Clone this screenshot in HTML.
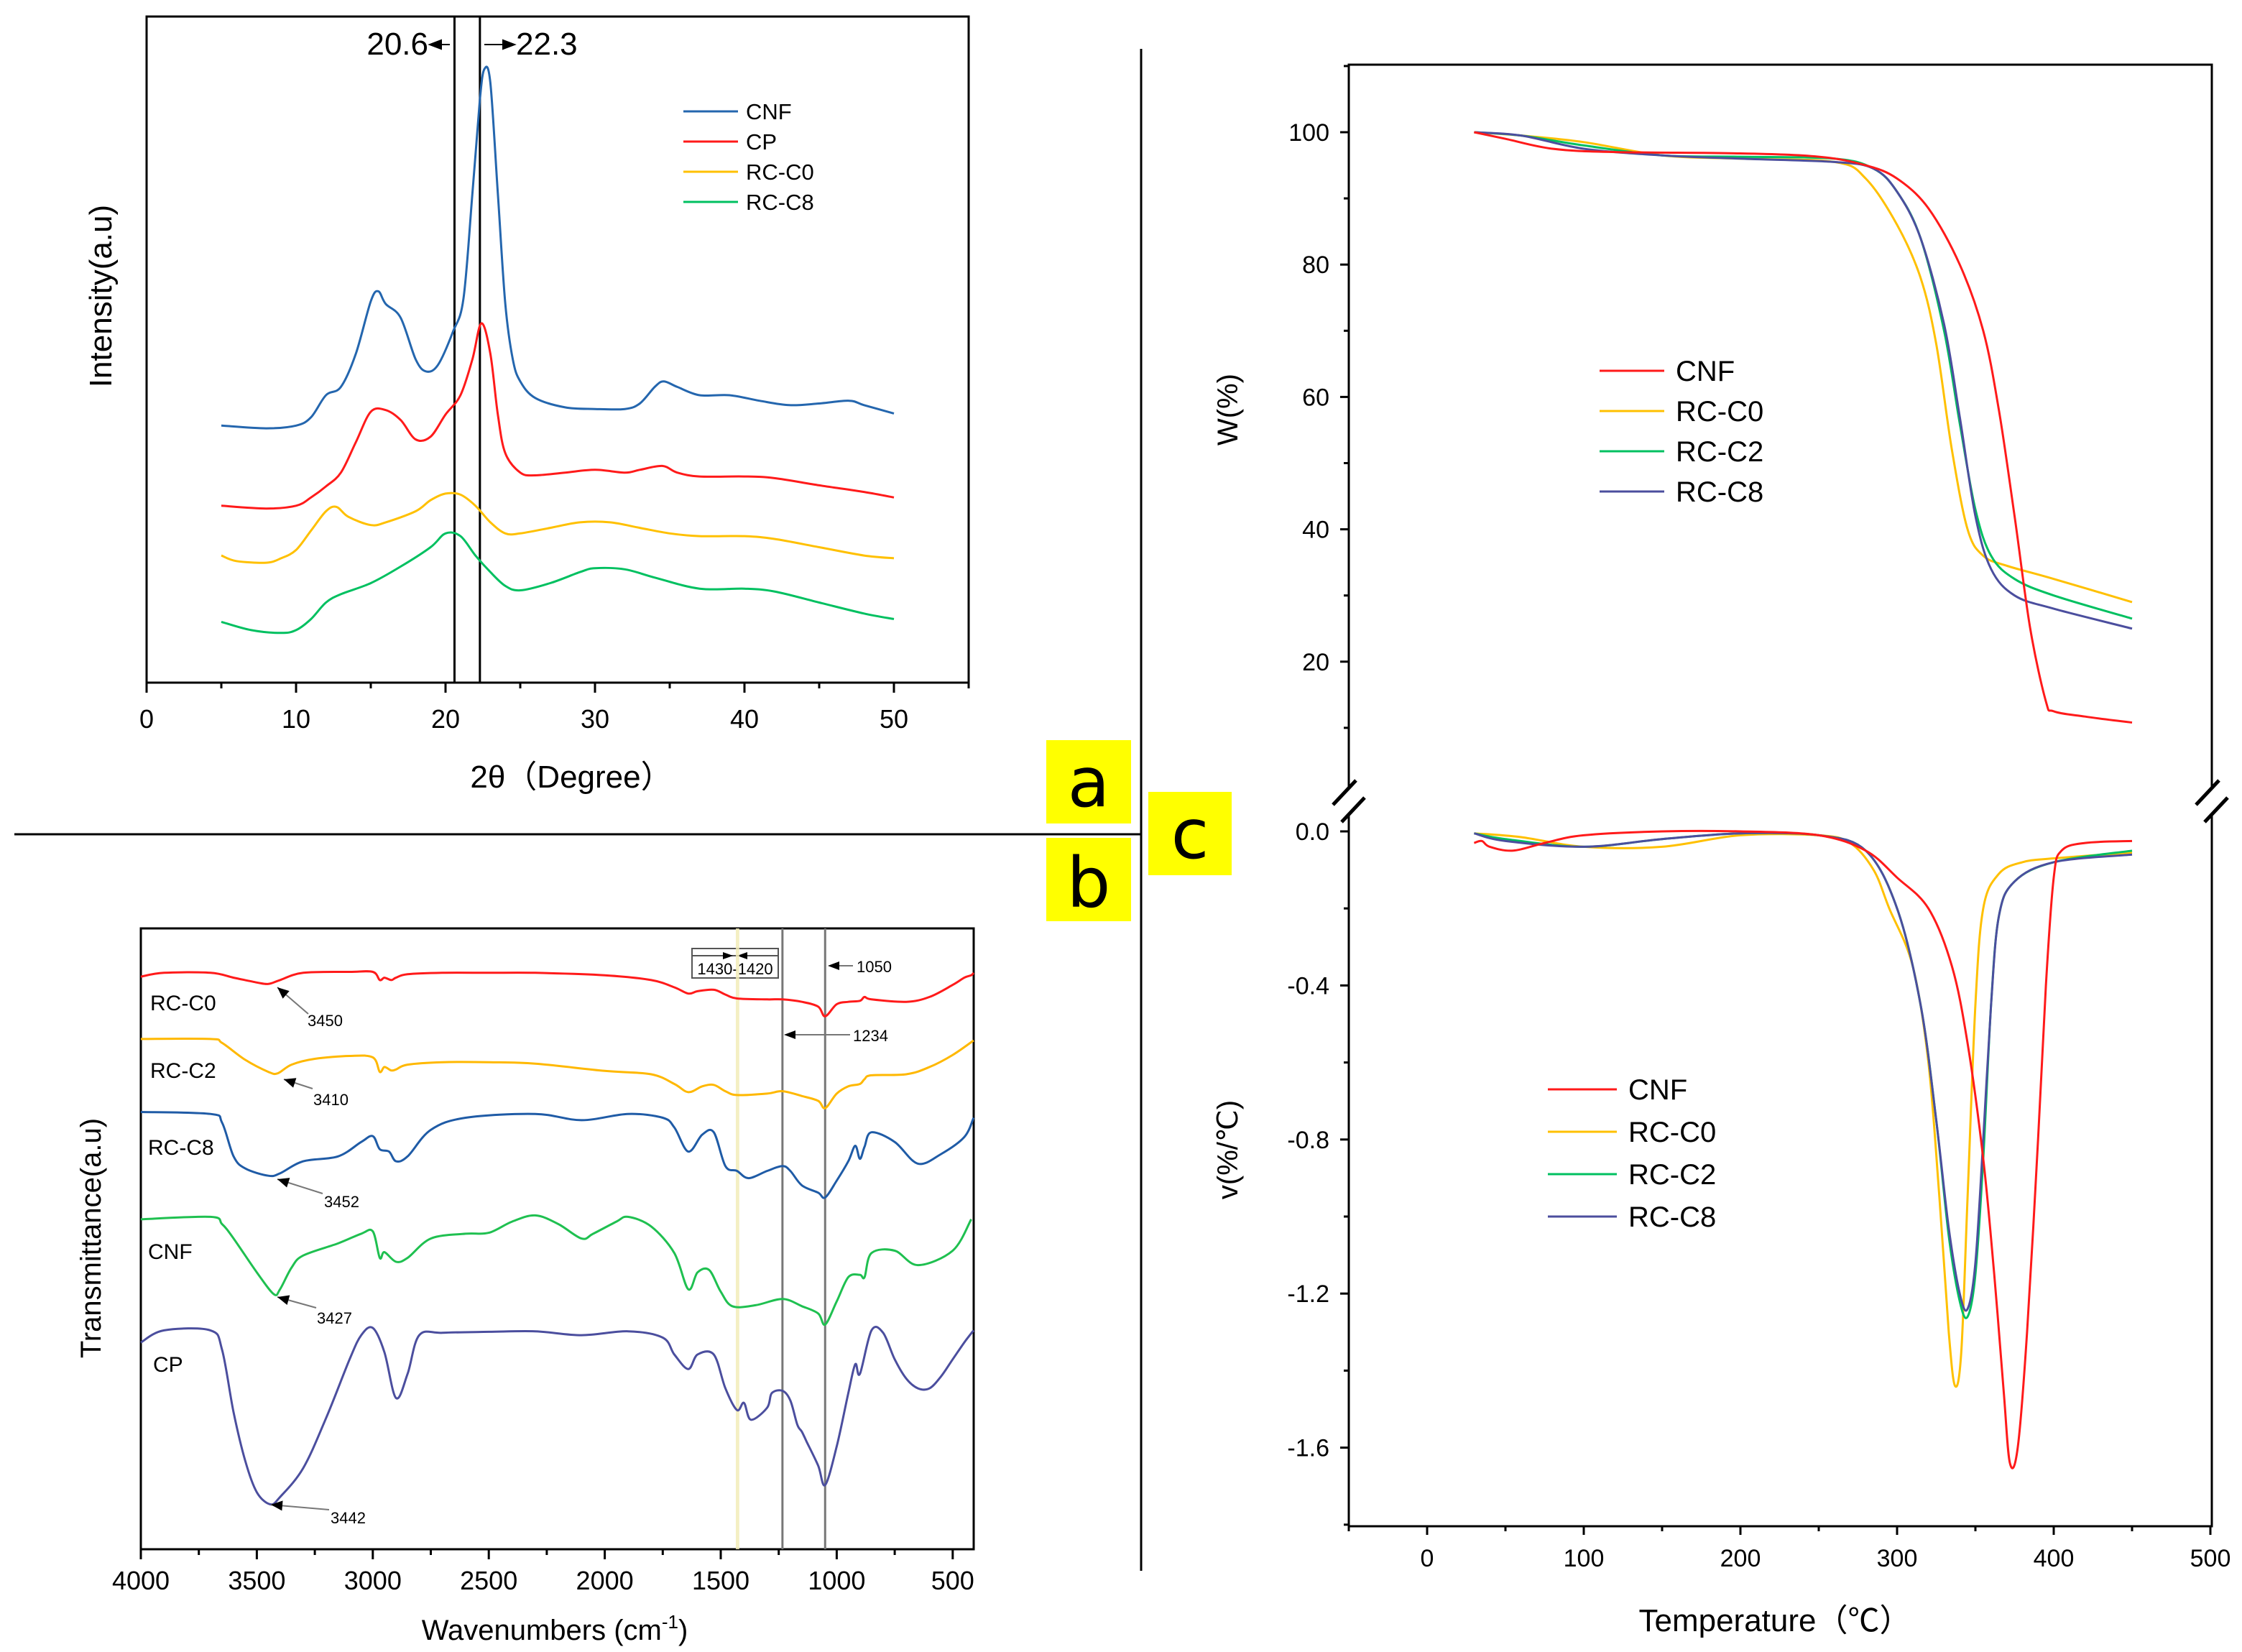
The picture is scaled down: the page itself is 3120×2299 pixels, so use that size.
<!DOCTYPE html>
<html><head><meta charset="utf-8"><title>XRD, FTIR and TGA figure</title>
<style>
html,body{margin:0;padding:0;background:#fff;}
svg{display:block;font-family:"Liberation Sans",Arial,sans-serif;}
</style></head>
<body>
<svg id="chart" xmlns="http://www.w3.org/2000/svg" width="3120" height="2299" viewBox="0 0 3120 2299">
<rect x="0" y="0" width="3120" height="2299" fill="#fff"/>
<line x1="1588" y1="68" x2="1588" y2="2186" stroke="#000" stroke-width="3"/>
<line x1="20" y1="1161" x2="1588" y2="1161" stroke="#000" stroke-width="3"/>
<g><rect x="1456" y="1030" width="118" height="116" fill="#ffff00"/><text x="1515" y="1122" font-size="96" font-family="DejaVu Sans,sans-serif" text-anchor="middle">a</text></g>
<g><rect x="1456" y="1166" width="118" height="116" fill="#ffff00"/><text x="1515" y="1262" font-size="96" font-family="DejaVu Sans,sans-serif" text-anchor="middle">b</text></g>
<g><rect x="1598" y="1102" width="116" height="116" fill="#ffff00"/><text x="1656" y="1194" font-size="96" font-family="DejaVu Sans,sans-serif" text-anchor="middle">c</text></g>

<g id="pa">
<rect x="204" y="23" width="1144" height="927" fill="none" stroke="#000" stroke-width="3"/>
<text x="795" y="1096" font-size="44" text-anchor="middle">2θ（Degree）</text>
<text transform="translate(155,412) rotate(-90)" font-size="44" text-anchor="middle">Intensity(a.u)</text>
<text x="596" y="76" font-size="44" text-anchor="end">20.6</text>
<path d="M598,62 L626,62 M598,62 L614,56 L614,68 Z" stroke="#000" stroke-width="2" fill="#000"/>
<path d="M674,62 L704,62 M716,62 L700,56 L700,68 Z" stroke="#000" stroke-width="2" fill="#000"/>
<text x="718" y="76" font-size="44">22.3</text>
</g>
<g id="pb">
<rect x="196" y="1292" width="1159" height="864" fill="none" stroke="#000" stroke-width="3"/>
<text x="772" y="2282" font-size="40" text-anchor="middle">Wavenumbers (cm<tspan dy="-16" font-size="26">-1</tspan><tspan dy="16">)</tspan></text>
<text transform="translate(140,1723) rotate(-90)" font-size="40" text-anchor="middle">Transmittance(a.u)</text>
<text x="209" y="1406" font-size="30">RC-C0</text>
<text x="209" y="1500" font-size="30">RC-C2</text>
<text x="206" y="1607" font-size="30">RC-C8</text>
<text x="206" y="1752" font-size="30">CNF</text>
<text x="213" y="1909" font-size="30">CP</text>
<rect x="963" y="1320" width="120" height="41" fill="#fff" stroke="#555" stroke-width="2"/>
<line x1="963" y1="1330" x2="1083" y2="1330" stroke="#555" stroke-width="2"/>
<path d="M1020,1330 L1006,1325 L1006,1335 Z M1026,1330 L1040,1325 L1040,1335 Z" fill="#000"/>
<text x="1023" y="1356" font-size="22" text-anchor="middle">1430-1420</text>
</g>
<g id="pc">
<text transform="translate(1722,570) rotate(-90)" font-size="40" text-anchor="middle">W(%)</text>
<text transform="translate(1722,1600) rotate(-90)" font-size="40" text-anchor="middle">v(%/℃)</text>
<text x="2470" y="2270" font-size="44" text-anchor="middle" font-family="'Liberation Sans','Noto Sans CJK SC',sans-serif">Temperature（℃）</text>
</g>
</svg>
<script>
const xrdCnfX=[5,8,10,11,12,13,14,15,15.5,16,17,18,18.7,19.5,20.5,21.2,21.8,22.3,22.6,23,23.5,24,24.5,25,26,28,30,32,33,34,34.6,35.5,37,39,41,43,45,47,48,50];
const xrdCnfY=[465,460,465,480,520,535,595,690,708,685,660,585,563,575,635,695,885,1055,1110,1085,885,685,585,545,515,498,495,495,505,535,545,535,520,520,510,502,505,510,502,487];
const xrdCpX=[5,8,10,11,12,13,14,15,16,17,18,19,20,21,21.8,22.4,23,23.5,24,25,26,28,30,32,33,34.5,35.5,37,40,42,45,48,50];
const xrdCpY=[320,315,320,335,355,380,435,490,493,475,440,445,485,520,585,650,595,485,415,380,375,380,385,380,385,392,380,373,373,370,357,345,335];
const xrdC0X=[5,6,8,9,10,11,12,12.7,13.5,15,16,18,19,20,21,22,23,24,25,27,29,31,33,35,37,40,42,45,48,50];
const xrdC0Y=[230,220,217,225,240,275,310,318,300,285,290,310,330,342,340,320,290,270,270,280,290,290,280,270,265,265,260,245,230,225];
const xrdC8X=[5,7,9,10,11,12,13,15,17,19,20,21,22,23,24,25,27,29,30,32,34,37,40,42,45,48,50];
const xrdC8Y=[110,95,90,95,115,145,160,180,210,245,270,265,230,200,175,167,180,200,207,205,190,170,170,165,145,125,115];
const xrdTicks=[0,10,20,30,40,50];
const xrdRefLines=[20.6,22.3];
const xrdLegend=["CNF","CP","RC-C0","RC-C8"];

const irC0X=[4000,3900,3700,3600,3500,3450,3400,3300,3100,3000,2970,2950,2920,2900,2850,2700,2500,2300,2000,1800,1700,1640,1600,1530,1480,1430,1300,1234,1150,1080,1050,1000,950,900,880,850,700,600,500,450,420,410];
const irC0Y=[1185,1193,1193,1183,1173,1170,1178,1193,1195,1195,1178,1183,1178,1183,1190,1193,1193,1193,1188,1178,1163,1150,1155,1158,1148,1140,1138,1138,1133,1123,1103,1128,1133,1135,1143,1138,1133,1143,1168,1183,1188,1193];
const irC2X=[4000,3700,3650,3550,3450,3410,3350,3250,3100,3000,2970,2950,2920,2900,2850,2700,2500,2300,2000,1800,1700,1640,1580,1530,1480,1430,1300,1234,1150,1080,1050,1000,950,900,880,850,700,600,500,410];
const irC2Y=[1056,1056,1048,1013,988,985,1003,1015,1021,1018,988,998,991,993,1003,1008,1008,1005,990,983,963,946,958,961,948,940,943,948,938,928,913,943,958,963,973,981,983,998,1023,1053];
const irC8X=[4000,3700,3650,3600,3550,3450,3400,3300,3150,3050,3000,2970,2930,2900,2850,2750,2600,2300,2100,1900,1750,1700,1640,1580,1530,1480,1430,1380,1300,1234,1200,1150,1080,1050,1000,950,920,900,880,850,750,650,550,450,410];
const irC8Y=[905,901,883,813,788,773,778,803,813,843,855,828,823,803,813,868,893,901,888,901,893,873,823,858,863,793,783,768,783,793,783,753,738,728,763,803,835,808,833,863,843,798,818,853,893];
const irCnfX=[4000,3700,3650,3600,3500,3427,3400,3350,3300,3150,3050,3000,2970,2950,2900,2850,2750,2600,2500,2400,2300,2200,2100,2050,1950,1900,1800,1700,1640,1600,1550,1500,1450,1350,1234,1150,1080,1050,1000,950,900,880,850,750,650,500,420];
const irCnfY=[683,688,673,643,573,528,538,583,608,633,653,658,603,615,595,603,643,653,655,678,691,673,643,653,678,688,668,613,538,573,578,533,503,505,518,503,488,465,513,563,568,563,613,618,588,618,683];
const irCpX=[4000,3900,3700,3650,3600,3550,3500,3442,3400,3300,3200,3100,3050,3000,2950,2900,2850,2800,2700,2500,2300,2100,1900,1750,1700,1640,1600,1530,1480,1430,1400,1370,1300,1280,1234,1200,1170,1150,1130,1080,1050,1000,950,920,900,850,800,750,700,650,600,550,500,450,410];
const irCpY=[428,453,453,413,283,183,118,93,108,168,273,393,443,458,408,313,363,443,448,450,451,443,451,438,403,373,403,403,333,288,303,268,293,323,328,308,258,243,223,173,133,213,323,383,363,453,448,393,353,333,333,358,393,428,453];
const irTicks=[4000,3500,3000,2500,2000,1500,1000,500];
const irRefLines=[1234,1050];
const irPeakLabels=["3450","3410","3452","3427","3442"];

const tgaCnfT=[30,50,80,120,200,250,280,300,320,340,355,365,375,385,395,400,420,450];
const tgaCnfW=[100,99,97.5,97,96.8,96.3,95,93,88.5,80,70,58,42,25,14,12.5,11.7,10.8];
const tgaC0T=[30,60,100,150,200,260,280,300,315,325,335,345,355,370,400,450];
const tgaC0W=[100,99.5,98.5,96.5,96,95.5,93,86,78,68,52,40,36,34.5,32.5,29];
const tgaC2T=[30,60,100,150,200,260,285,300,315,330,340,350,360,375,400,450];
const tgaC2W=[100,99.5,98,96.5,96.3,96,94.5,91,84,70,56,43,36,32.5,30,26.5];
const tgaC8T=[30,60,100,150,200,260,285,300,315,330,340,350,360,375,400,450];
const tgaC8W=[100,99.5,97.5,96.5,96,95.5,94.5,91,84,71,57,42,34,30,28,25];
const dtgCnfT=[30,35,40,55,75,100,150,200,250,280,300,320,335,345,355,362,368,372,377,383,390,395,400,405,420,450];
const dtgCnfV=[-0.03,-0.025,-0.04,-0.05,-0.03,-0.01,0,0,-0.01,-0.05,-0.12,-0.2,-0.35,-0.55,-0.85,-1.15,-1.45,-1.64,-1.6,-1.3,-0.8,-0.4,-0.12,-0.05,-0.03,-0.025];
const dtgC0T=[30,60,100,150,200,250,270,285,295,310,320,327,333,337,341,345,350,355,365,380,400,450];
const dtgC0V=[-0.005,-0.015,-0.04,-0.04,-0.01,-0.01,-0.03,-0.1,-0.2,-0.35,-0.6,-0.95,-1.3,-1.44,-1.35,-0.95,-0.45,-0.2,-0.11,-0.08,-0.07,-0.055];
const dtgC2T=[30,50,100,150,200,250,280,300,315,325,333,340,345,350,355,360,365,375,400,450];
const dtgC2V=[-0.005,-0.02,-0.04,-0.02,-0.005,-0.01,-0.05,-0.2,-0.45,-0.75,-1.05,-1.22,-1.26,-1.15,-0.85,-0.45,-0.22,-0.13,-0.08,-0.05];
const dtgC8T=[30,50,100,150,200,250,280,300,315,325,333,340,345,350,355,360,365,375,400,450];
const dtgC8V=[-0.005,-0.025,-0.04,-0.02,-0.005,-0.01,-0.05,-0.2,-0.45,-0.75,-1.03,-1.2,-1.24,-1.12,-0.8,-0.45,-0.22,-0.13,-0.08,-0.06];
const tempTicks=[0,100,200,300,400,500];
const wTicks=[100,80,60,40,20];
const vTicks=[0.0,-0.4,-0.8,-1.2,-1.6];
const tgaLegend=["CNF","RC-C0","RC-C2","RC-C8"];

const NS="http://www.w3.org/2000/svg";
const svg=document.getElementById('chart');
function mk(tag,attrs,parent){const e=document.createElementNS(NS,tag);for(const k in attrs)e.setAttribute(k,attrs[k]);(parent||svg).appendChild(e);return e;}
function smooth(pts){
  let d="M"+pts[0][0].toFixed(1)+","+pts[0][1].toFixed(1);
  for(let i=0;i<pts.length-1;i++){
    const p0=pts[i-1]||pts[i],p1=pts[i],p2=pts[i+1],p3=pts[i+2]||p2;
    const c1=[p1[0]+(p2[0]-p0[0])/6,p1[1]+(p2[1]-p0[1])/6];
    const c2=[p2[0]-(p3[0]-p1[0])/6,p2[1]-(p3[1]-p1[1])/6];
    d+=" C"+c1[0].toFixed(1)+","+c1[1].toFixed(1)+" "+c2[0].toFixed(1)+","+c2[1].toFixed(1)+" "+p2[0].toFixed(1)+","+p2[1].toFixed(1);
  }
  return d;
}
function curve(xs,ys,fx,fy,color,w,name){
  const pts=xs.map((x,i)=>[fx(x),fy(ys[i])]);
  const p=mk('path',{d:smooth(pts),fill:'none',stroke:color,'stroke-width':w,'stroke-linejoin':'round'});
  
  
  return p;
}

const ax=v=>204+v*20.8, ay=v=>950-v*0.7693;
xrdRefLines.forEach(v=>{
  const l=mk('line',{x1:ax(v),x2:ax(v),y1:23,y2:950,stroke:'#000','stroke-width':3});
  
  
});
for(let v=0;v<=55;v+=5){
  const major=v%10===0;
  const t=mk('line',{x1:ax(v),x2:ax(v),y1:950,y2:950+(major?14:8),stroke:'#000','stroke-width':3});
  
  
}
xrdTicks.forEach(v=>{
  const t=mk('text',{x:ax(v),y:1013,'font-size':36,'text-anchor':'middle'});t.textContent=v;
  
  
});
const xrdColors=['#2466ae','#ff1a1a','#ffc000','#00c060'];
curve(xrdCnfX,xrdCnfY,ax,ay,xrdColors[0],3,'xrd-cnf-line');
curve(xrdCpX,xrdCpY,ax,ay,xrdColors[1],3,'xrd-cp-line');
curve(xrdC0X,xrdC0Y,ax,ay,xrdColors[2],3,'xrd-rc-c0-line');
curve(xrdC8X,xrdC8Y,ax,ay,xrdColors[3],3,'xrd-rc-c8-line');
xrdLegend.forEach((s,i)=>{
  const y=155+i*42;
  const l=mk('line',{x1:951,x2:1027,y1:y,y2:y,stroke:xrdColors[i],'stroke-width':3});
  
  
  const t=mk('text',{x:1038,y:y+11,'font-size':31});t.textContent=s;
  
  
});

const bx=w=>196+(4000-w)*0.3228, by=v=>2156-v*0.6724;
const band=mk('rect',{x:bx(1435),y:1292,width:bx(1420)-bx(1435),height:864,fill:'#f2ecb8',opacity:0.85});


irRefLines.forEach(w=>{
  const l=mk('line',{x1:bx(w),x2:bx(w),y1:1292,y2:2156,stroke:'#777','stroke-width':3});
  
  
});
for(let w=4000;w>=500;w-=250){
  const major=w%500===0;
  const t=mk('line',{x1:bx(w),x2:bx(w),y1:2156,y2:2156+(major?14:8),stroke:'#000','stroke-width':3});
  
  
}
irTicks.forEach(w=>{
  const t=mk('text',{x:bx(w),y:2212,'font-size':36,'text-anchor':'middle'});t.textContent=w;
  
  
});
curve(irC0X,irC0Y,bx,by,'#ff1a1a',3,'ftir-rc-c0-line');
curve(irC2X,irC2Y,bx,by,'#ffb800',3,'ftir-rc-c2-line');
curve(irC8X,irC8Y,bx,by,'#1f5ba6',3,'ftir-rc-c8-line');
curve(irCnfX,irCnfY,bx,by,'#1fc050',3,'ftir-cnf-line');
curve(irCpX,irCpY,bx,by,'#4b4e9e',3,'ftir-cp-line');
const arrows=[[429,1411,386,1374,430,1422],[435,1515,395,1502,438,1532],[449,1661,386,1641,453,1674],[440,1820,386,1805,443,1836],[458,2101,377,2094,462,2114]];
arrows.forEach((a,i)=>{
  const ang=Math.atan2(a[3]-a[1],a[2]-a[0]);
  const hx=a[2],hy=a[3],L=16,W=7;
  const b1=[hx-L*Math.cos(ang)+W*Math.sin(ang),hy-L*Math.sin(ang)-W*Math.cos(ang)];
  const b2=[hx-L*Math.cos(ang)-W*Math.sin(ang),hy-L*Math.sin(ang)+W*Math.cos(ang)];
  const g=mk('g',{});
  
  
  mk('line',{x1:a[0],y1:a[1],x2:hx,y2:hy,stroke:'#777','stroke-width':2},g);
  mk('path',{d:`M${hx},${hy} L${b1[0]},${b1[1]} L${b2[0]},${b2[1]} Z`,fill:'#000'},g);
  const t=mk('text',{x:a[4]-2,y:a[5]+6,'font-size':22},g);t.textContent=irPeakLabels[i];
});
[[1187,1344,1152,"1050",1192,1353],[1183,1440,1091,"1234",1187,1449]].forEach(a=>{
  const g=mk('g',{});
  
  
  mk('line',{x1:a[0],y1:a[1],x2:a[2]+12,y2:a[1],stroke:'#777','stroke-width':2},g);
  mk('path',{d:`M${a[2]},${a[1]} L${a[2]+16},${a[1]-6} L${a[2]+16},${a[1]+6} Z`,fill:'#000'},g);
  const t=mk('text',{x:a[4],y:a[5],'font-size':22},g);t.textContent=a[3];
});

const cx=T=>1986+T*2.18, cyW=W=>184+(100-W)*9.21, cyV=v=>1157-v*536;
const frame=mk('path',{d:"M1877,1098 L1877,90 L3078,90 L3078,1098 M1877,1132 L1877,2124 L3078,2124 L3078,1132",fill:'none',stroke:'#000','stroke-width':3});


[1877,3078].forEach(x=>{
  const b=mk('path',{d:`M${x-22},${1120} L${x+10},${1086} M${x-10},${1144} L${x+22},${1110}`,stroke:'#000','stroke-width':5});
  
  
});
for(let T=-50;T<=500;T+=50){
  const major=T%100===0;
  const t=mk('line',{x1:cx(T),x2:cx(T),y1:2124,y2:2124+(major?12:7),stroke:'#000','stroke-width':3});
  
  
}
tempTicks.forEach(T=>{
  const t=mk('text',{x:cx(T),y:2180,'font-size':34,'text-anchor':'middle'});t.textContent=T;
  
  
});
for(let W=10;W<=110;W+=10){
  const t=mk('line',{x1:1877,x2:1877-(W%20===0?12:7),y1:cyW(W),y2:cyW(W),stroke:'#000','stroke-width':3});
  
  
}
wTicks.forEach(W=>{
  const t=mk('text',{x:1850,y:cyW(W)+12,'font-size':34,'text-anchor':'end'});t.textContent=W;
  
  
});
for(let k=0;k<=9;k++){
  const v=-0.2*k;
  const t=mk('line',{x1:1877,x2:1877-(k%2===0?12:7),y1:cyV(v),y2:cyV(v),stroke:'#000','stroke-width':3});
  
  
}
vTicks.forEach(v=>{
  const t=mk('text',{x:1850,y:cyV(v)+12,'font-size':34,'text-anchor':'end'});t.textContent=v.toFixed(1);
  
  
});
const cCols=['#ff1a1a','#ffc000','#00c060','#4b4e9e'];
curve(tgaC0T,tgaC0W,cx,cyW,cCols[1],3,'tga-rc-c0-line');
curve(tgaC2T,tgaC2W,cx,cyW,cCols[2],3,'tga-rc-c2-line');
curve(tgaC8T,tgaC8W,cx,cyW,cCols[3],3,'tga-rc-c8-line');
curve(tgaCnfT,tgaCnfW,cx,cyW,cCols[0],3,'tga-cnf-line');
curve(dtgC0T,dtgC0V,cx,cyV,cCols[1],3,'dtg-rc-c0-line');
curve(dtgC2T,dtgC2V,cx,cyV,cCols[2],3,'dtg-rc-c2-line');
curve(dtgC8T,dtgC8V,cx,cyV,cCols[3],3,'dtg-rc-c8-line');
curve(dtgCnfT,dtgCnfV,cx,cyV,cCols[0],3,'dtg-cnf-line');
tgaLegend.forEach((s,i)=>{
  const y=516+i*56;
  const l=mk('line',{x1:2226,x2:2316,y1:y,y2:y,stroke:cCols[i],'stroke-width':3});
  
  
  const t=mk('text',{x:2332,y:y+14,'font-size':40});t.textContent=s;
  
  
  const y2=1516+i*59;
  const l2=mk('line',{x1:2154,x2:2250,y1:y2,y2:y2,stroke:cCols[i],'stroke-width':3});
  
  
  const t2=mk('text',{x:2266,y:y2+14,'font-size':40});t2.textContent=s;
  
  
});
</script>
</body></html>
